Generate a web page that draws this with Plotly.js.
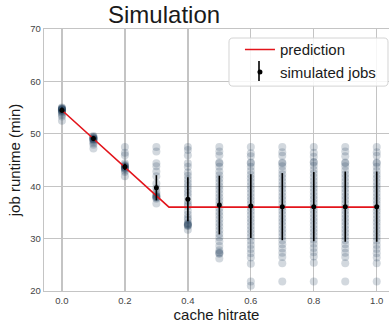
<!DOCTYPE html>
<html>
<head>
<meta charset="utf-8">
<script src="https://cdn.plot.ly/plotly-3.0.1.min.js"></script>
<style>html,body{margin:0;padding:0;background:#fff;}#chart{width:389px;height:323px;}</style>
</head>
<body>
<div id="chart"></div>
<script>
// ---- data ----
var hitrates = [0.0, 0.1, 0.2, 0.3, 0.4, 0.5, 0.6, 0.7, 0.8, 0.9, 1.0];
var meanRuntime = [54.5, 49.1, 43.7, 39.7, 37.5, 36.4, 36.2, 36.1, 36.1, 36.1, 36.1];
var errRuntime = [0.5, 0.5, 0.6, 2.4, 4.2, 5.6, 6.1, 6.4, 6.6, 6.7, 6.7];
var predHitrate = [0.0, 0.34, 1.0];
var predRuntime = [54.5, 36.0, 36.0];
var simRuntimes = [
  [55.0, 54.9, 54.8, 54.8, 54.7, 54.7, 54.6, 54.5, 54.5, 54.4, 54.3, 54.1, 53.9, 53.6, 53.3, 52.5],
  [49.6, 49.4, 49.3, 49.3, 49.1, 49.1, 49.0, 48.9, 48.9, 48.7, 48.5, 48.2, 47.9, 47.2],
  [47.5, 46.4, 45.9, 44.4, 44.1, 43.9, 43.8, 43.7, 43.6, 43.5, 43.4, 43.3, 43.0, 42.7, 41.9],
  [47.5, 46.6, 44.4, 43.8, 42.8, 41.9, 40.5, 39.6, 38.9, 38.5, 38.2, 38.1, 38.0, 37.9, 37.8, 37.6, 36.7],
  [47.5, 46.9, 45.9, 44.4, 43.7, 42.6, 42.0, 41.3, 40.6, 40.0, 39.3, 38.7, 38.1, 37.2, 36.6, 36.2, 35.3, 34.6, 34.0, 33.6, 33.0, 32.8, 32.7, 32.6, 32.5, 32.4, 31.7],
  [47.5, 46.6, 45.9, 44.5, 44.4, 43.7, 42.8, 42.1, 41.4, 40.7, 40.0, 39.3, 38.6, 37.9, 37.2, 36.5, 35.8, 35.1, 34.4, 33.7, 33.0, 32.3, 31.6, 30.9, 30.2, 29.5, 28.6, 27.8, 27.4, 27.2, 27.1, 26.2],
  [47.5, 46.3, 45.7, 44.5, 44.4, 43.7, 42.9, 42.2, 41.5, 40.8, 40.1, 39.4, 38.7, 38.0, 37.3, 36.6, 35.9, 35.2, 34.5, 33.8, 33.1, 32.4, 31.7, 31.0, 30.3, 29.6, 28.8, 28.0, 27.2, 26.4, 25.2, 21.8, 21.0],
  [47.5, 46.5, 45.8, 44.5, 44.4, 43.8, 43.0, 42.3, 41.6, 40.9, 40.2, 39.5, 38.8, 38.1, 37.4, 36.7, 36.0, 35.3, 34.6, 33.9, 33.2, 32.5, 31.8, 31.1, 30.4, 29.7, 28.9, 28.1, 27.3, 26.5, 25.3, 21.8],
  [47.5, 46.4, 45.6, 44.6, 44.5, 43.9, 43.1, 42.4, 41.7, 41.0, 40.3, 39.6, 38.9, 38.2, 37.5, 36.8, 36.1, 35.4, 34.7, 34.0, 33.3, 32.6, 31.9, 31.2, 30.5, 29.8, 29.0, 28.2, 27.4, 26.6, 25.4, 21.8],
  [47.5, 46.6, 45.7, 44.5, 44.4, 43.8, 43.0, 42.3, 41.6, 40.9, 40.2, 39.5, 38.8, 38.1, 37.4, 36.7, 36.0, 35.3, 34.6, 33.9, 33.2, 32.5, 31.8, 31.1, 30.4, 29.7, 28.9, 28.1, 27.3, 26.5, 25.3, 21.8],
  [47.5, 46.5, 45.8, 44.5, 44.4, 43.7, 42.9, 42.2, 41.5, 40.8, 40.1, 39.4, 38.7, 38.0, 37.3, 36.6, 35.9, 35.2, 34.5, 33.8, 33.1, 32.4, 31.7, 31.0, 30.3, 29.6, 28.8, 28.0, 27.2, 26.4, 25.3, 21.8]
];
var xTickVals = [0.0, 0.2, 0.4, 0.6, 0.8, 1.0];
var xTickText = ['0.0', '0.2', '0.4', '0.6', '0.8', '1.0'];
var yTickVals = [20, 30, 40, 50, 60, 70];

// ---- build traces ----
var scatterX = [], scatterY = [];
simRuntimes.forEach(function (col, i) {
  col.forEach(function (v) { scatterX.push(hitrates[i]); scatterY.push(v); });
});

var traces = [
  {
    x: scatterX, y: scatterY, type: 'scatter', mode: 'markers', showlegend: false,
    marker: {size: 8, color: 'rgba(30,60,90,0.2)', line: {width: 0}},
    hoverinfo: 'skip'
  },
  {
    x: predHitrate, y: predRuntime, type: 'scatter', mode: 'lines', name: 'prediction',
    line: {color: '#e3141b', width: 1.6}
  },
  {
    x: hitrates, y: meanRuntime, type: 'scatter', mode: 'markers', name: 'simulated jobs',
    marker: {size: 5, color: '#000'},
    error_y: {type: 'data', array: errRuntime, visible: true, color: '#000', thickness: 1.6, width: 0}
  }
];

var gridC = '#c4c4c4';
var layout = {
  width: 389, height: 323,
  margin: {l: 44, r: 0, t: 29, b: 32, pad: 0},
  paper_bgcolor: '#fff', plot_bgcolor: '#fff',
  font: {family: 'Liberation Sans, Arial, sans-serif', color: '#222'},
  title: {text: 'Simulation', font: {size: 24, color: '#1a1a1a'}, x: 0.348, xref: 'paper', xanchor: 'center', y: 0.9536, yref: 'container', yanchor: 'middle'},
  xaxis: {
    range: [-0.057, 1.039], tickvals: xTickVals, ticktext: xTickText,
    showgrid: true, gridcolor: gridC, gridwidth: 1.3, zeroline: false,
    showline: true, linecolor: gridC, linewidth: 1.3, mirror: true,
    ticks: '', tickfont: {size: 9.5, color: '#444'}, ticklen: 0,
    title: {text: 'cache hitrate', font: {size: 15, color: '#1a1a1a'}, standoff: 4}
  },
  yaxis: {
    range: [20, 70], tickvals: yTickVals,
    showgrid: true, gridcolor: gridC, gridwidth: 1.3, zeroline: false,
    showline: true, linecolor: gridC, linewidth: 1.3, mirror: true,
    ticks: '', tickfont: {size: 9.5, color: '#444'},
    title: {text: 'job runtime (min)', font: {size: 15, color: '#1a1a1a'}, standoff: 6}
  },
  legend: {
    x: 0.568, y: 0.984, xanchor: 'left', yanchor: 'top',
    bgcolor: 'rgba(0,0,0,0)', borderwidth: 0,
    font: {size: 15, color: '#1a1a1a'}, tracegroupgap: 0
  },
  shapes: [
    {
      type: 'path', xref: 'paper', yref: 'paper', layer: 'above',
      path: 'M 0.5362,0.8000 L 0.5362,0.9503 Q 0.5362,0.9656 0.5478,0.9656 L 0.9855,0.9656 Q 0.9971,0.9656 0.9971,0.9503 L 0.9971,0.7973 Q 0.9971,0.7820 0.9855,0.7820 L 0.5478,0.7820 Q 0.5362,0.7820 0.5362,0.7973 Z',
      fillcolor: 'rgba(255,255,255,0.85)', line: {color: '#d4d4d4', width: 1}
    },
    {
      // error-bar glyph of the legend key for "simulated jobs"
      type: 'line', xref: 'paper', yref: 'paper', layer: 'above',
      x0: 0.6232, x1: 0.6232, y0: 0.8015, y1: 0.8779,
      line: {color: '#000', width: 1.6}
    }
  ],
  showlegend: true
};

Plotly.newPlot('chart', traces, layout, {displayModeBar: false, staticPlot: true});
</script>
</body>
</html>
